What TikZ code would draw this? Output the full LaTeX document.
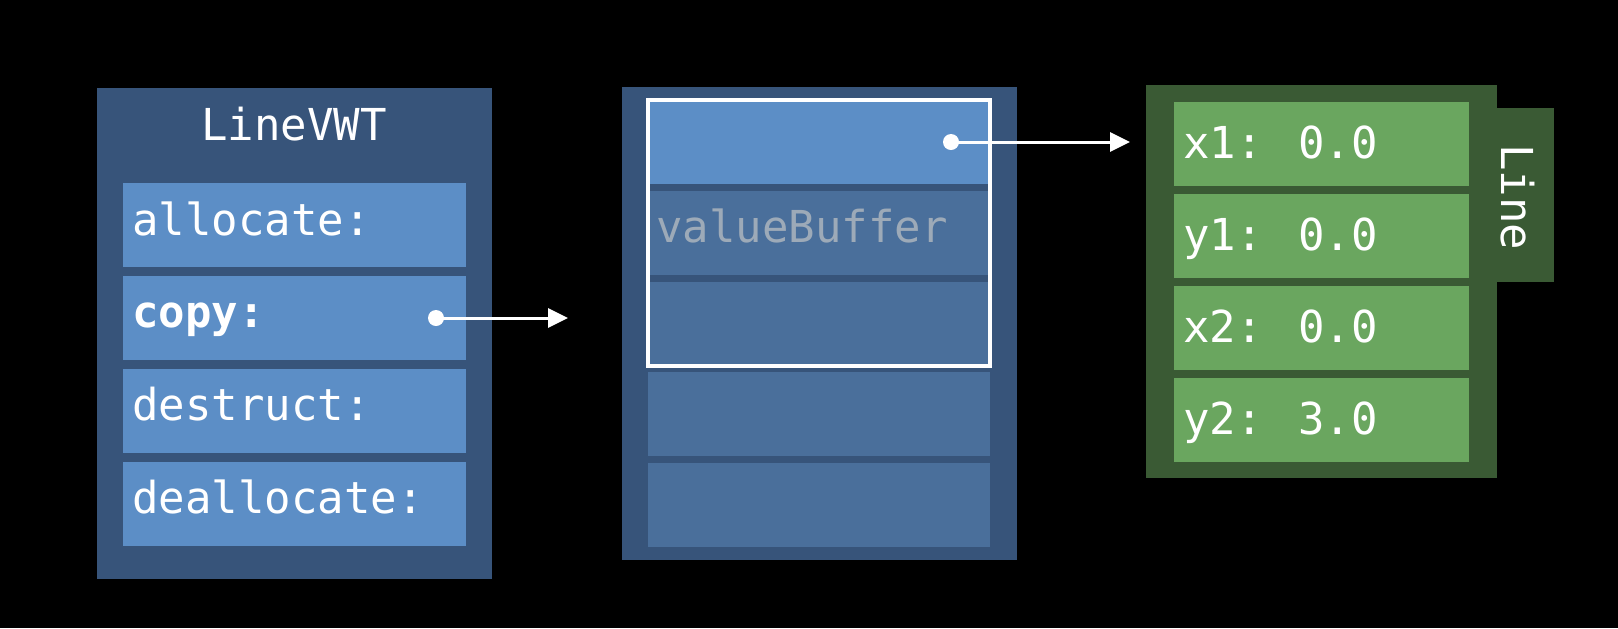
\documentclass[tikz,border=0pt]{standalone}
\usepackage{fontspec}
\newfontfamily\mono{DejaVu Sans Mono}
\usetikzlibrary{fit,arrows.meta}
\definecolor{bgbox}{HTML}{37547A}
\definecolor{lrowc}{HTML}{5C8EC6}
\definecolor{drowc}{HTML}{4A6F9B}
\definecolor{gbox}{HTML}{3A5A34}
\definecolor{growc}{HTML}{6AA65F}
\definecolor{greytxt}{HTML}{9DAAB8}
\tikzset{
  box/.style={anchor=north west, inner sep=0pt, outer sep=0pt},
  outerbox/.style={box, fill=bgbox},
  lrow/.style={box, fill=lrowc, minimum height=42pt},
  drow/.style={box, fill=drowc, minimum height=42pt},
  greenbox/.style={box, fill=gbox},
  greenrow/.style={box, fill=growc, minimum height=42pt, minimum width=147.5pt},
  lbl/.style={anchor=base west, inner sep=0pt, text=white, font=\mono\fontsize{22pt}{26pt}\selectfont},
  dot/.style={circle, fill=white, inner sep=0pt, minimum size=8pt},
  arr/.style={white, line width=1.5pt, -{Triangle[length=10pt,width=9.5pt]}},
}
\begin{document}
\begin{tikzpicture}[x=0.5pt,y=-0.5pt]
\fill[black] (0,0) rectangle (1618,628);
\useasboundingbox (0,0) rectangle (1618,628);
% left table
\node[outerbox, minimum width=197.5pt, minimum height=245.5pt] (vwt) at (97,88) {};
\node[lbl, anchor=base] (vwtt) at (294,140) {LineVWT};
\node[lrow, minimum width=171.5pt] (la) at (123,183) {};
\node[lrow, minimum width=171.5pt] (lc) at (123,276) {};
\node[lrow, minimum width=171.5pt] (ld) at (123,369) {};
\node[lrow, minimum width=171.5pt] (le) at (123,462) {};
\node[lbl] (lat) at (132,235) {allocate:};
\node[lbl, font=\mono\bfseries\fontsize{22pt}{26pt}\selectfont] (lct) at (132,327) {copy:};
\node[lbl] (ldt) at (132,420) {destruct:};
\node[lbl] (let) at (132,513) {deallocate:};
% middle buffer
\node[outerbox, minimum width=197.5pt, minimum height=236.5pt] (buf) at (622,87) {};
\node[lrow, minimum width=171pt] (m1) at (648,100) {};
\node[drow, minimum width=171pt] (m2) at (648,191) {};
\node[drow, minimum width=171pt] (m3) at (648,282) {};
\node[drow, minimum width=171pt] (m4) at (648,372) {};
\node[drow, minimum width=171pt] (m5) at (648,463) {};
\node[lbl, text=greytxt] (vbt) at (656,242) {valueBuffer};
\node[draw=white, line width=2.25pt, inner sep=0pt, fit=(m1)(m3)] (vb) {};
% green Line
\node[greenbox, minimum width=32pt, minimum height=87pt] (tab) at (1490,108) {};
\node[greenbox, minimum width=175.5pt, minimum height=196.5pt] (line) at (1146,85) {};
\node[greenrow] (g1) at (1174,102) {};
\node[greenrow] (g2) at (1174,194) {};
\node[greenrow] (g3) at (1174,286) {};
\node[greenrow] (g4) at (1174,378) {};
\node[lbl] (g1t) at (1183,158) {x1: 0.0};
\node[lbl] (g2t) at (1183,250) {y1: 0.0};
\node[lbl] (g3t) at (1183,342) {x2: 0.0};
\node[lbl] (g4t) at (1183,434) {y2: 3.0};
\node[lbl, anchor=center, rotate=-90] (tabt) at (1518,197) {Line};
% arrows
\node[dot] (d1) at (436,318) {};
\coordinate (e1) at (568,318);
\draw[arr] (d1.center) -- (e1);
\node[dot] (d2) at (951,142) {};
\coordinate (e2) at (1130,142);
\draw[arr] (d2.center) -- (e2);
\end{tikzpicture}
\end{document}
